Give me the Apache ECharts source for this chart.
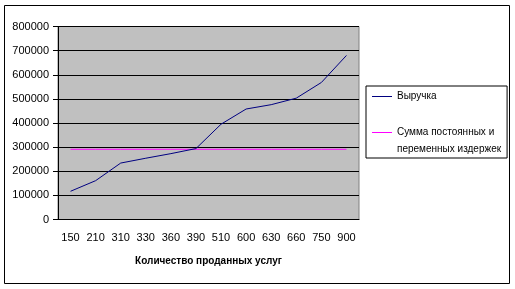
<!DOCTYPE html>
<html>
<head>
<meta charset="utf-8">
<script src="https://cdn.jsdelivr.net/npm/echarts@6/dist/echarts.min.js"></script>
<style>
  html, body { margin: 0; padding: 0; background: #fff; }
  #main { width: 515px; height: 289px; }
</style>
</head>
<body>
<div id="main"></div>
<script>
// данные графика
var categories = ['150', '210', '310', '330', '360', '390', '510', '600', '630', '660', '750', '900'];
var revenue = [117000, 161000, 234000, 254000, 273000, 294000, 395000, 458000, 476000, 503000, 568000, 680000];
var costs = [291000, 291000, 291000, 291000, 291000, 291000, 291000, 291000, 291000, 291000, 291000, 291000];
var seriesNames = ['Выручка', 'Сумма постоянных и переменных издержек'];

var myChart = echarts.init(document.getElementById('main'));

var font = 'Arial, "Liberation Sans", sans-serif';

option = {
    backgroundColor: '#fff',
    animation: false,
    textStyle: { fontFamily: font },
    graphic: [{
        type: 'rect',
        shape: { x: 4.5, y: 5.5, width: 505, height: 278 },
        style: { fill: 'none', stroke: '#000', lineWidth: 1 },
        z: 100
    }],
    grid: {
        left: 58, top: 26.5, right: 156, bottom: 69.5,
        show: true,
        backgroundColor: '#C0C0C0',
        borderColor: '#808080',
        borderWidth: 1,
        containLabel: false
    },
    legend: {
        orient: 'vertical',
        left: 366, top: 86,
        padding: [2, 6, 0, 6],
        borderColor: '#000',
        borderWidth: 1,
        icon: 'rect',
        itemWidth: 20,
        itemHeight: 1,
        itemGap: 2,
        textStyle: { fontSize: 10, color: '#000', lineHeight: 17, fontFamily: font },
        formatter: function (name) {
            if (name === seriesNames[1]) return ' \nСумма постоянных и\nпеременных издержек';
            return name;
        },
        data: seriesNames
    },
    xAxis: {
        type: 'category',
        data: categories,
        boundaryGap: true,
        name: 'Количество проданных услуг',
        nameLocation: 'middle',
        nameGap: 37,
        nameTextStyle: { fontSize: 10, fontWeight: 'bold', color: '#000', fontFamily: font },
        axisLine: { lineStyle: { color: '#000' } },
        axisTick: { length: 5, alignWithLabel: false, lineStyle: { color: '#000' } },
        axisLabel: { interval: 0, margin: 13, fontSize: 11, color: '#000' },
        splitLine: { show: false }
    },
    yAxis: {
        type: 'value',
        min: 0, max: 800000, interval: 100000,
        axisLine: { show: true, lineStyle: { color: '#000' } },
        axisTick: { show: true, length: 5, lineStyle: { color: '#000' } },
        axisLabel: { margin: 9, fontSize: 11, color: '#000', formatter: function (v) { return String(v); } },
        splitLine: { lineStyle: { color: '#000', width: 1 } }
    },
    series: [{
        name: seriesNames[0],
        type: 'line',
        data: revenue,
        symbol: 'none',
        z: 3,
        lineStyle: { color: '#000080', width: 1 },
        itemStyle: { color: '#000080' }
    }, {
        name: seriesNames[1],
        type: 'line',
        data: costs,
        symbol: 'none',
        z: 2,
        lineStyle: { color: '#FF00FF', width: 1 },
        itemStyle: { color: '#FF00FF' }
    }]
};
myChart.setOption(option);
</script>
</body>
</html>
